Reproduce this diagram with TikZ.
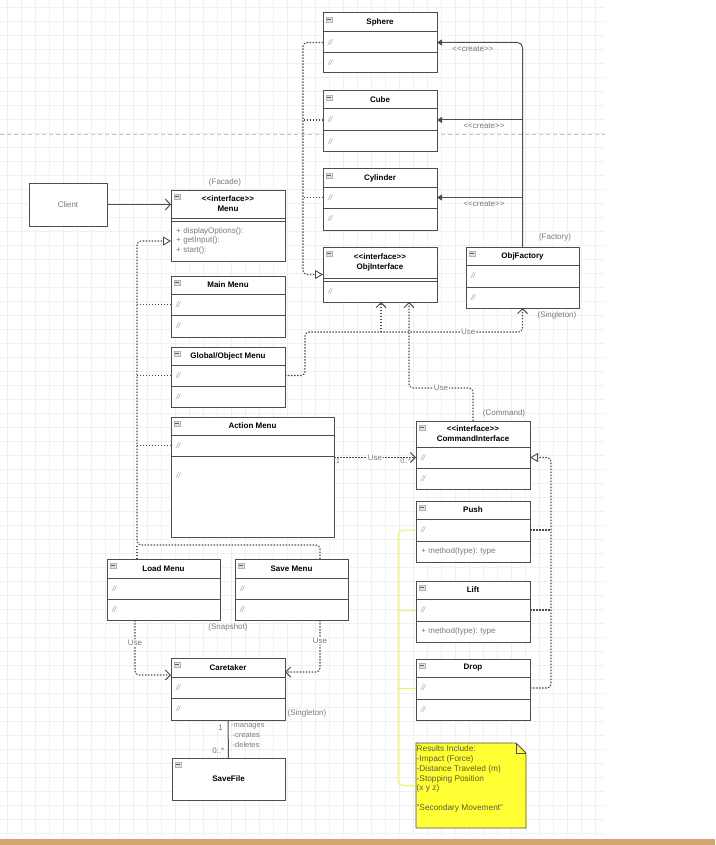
\documentclass[tikz,border=0pt]{standalone}
\usepackage{fontspec}
\setmainfont{Liberation Sans}
\usetikzlibrary{arrows.meta,calc}
\frenchspacing

\definecolor{umlline}{HTML}{4D4D4D}
\definecolor{labelgray}{HTML}{7A7A7A}
\definecolor{slashgray}{HTML}{A0A0A0}
\definecolor{gridgray}{HTML}{F0F0F0}
\definecolor{noteyellow}{HTML}{FFFF33}
\definecolor{notetextcol}{HTML}{5C5C30}
\definecolor{yellowline}{HTML}{F0F060}
\definecolor{baseband}{HTML}{D4A574}

\newcommand\attrmark{\textcolor{slashgray}{\itshape //}}
% stereotype brackets, kept apart so they are not merged into guillemets
\newcommand\stereo[1]{<{}<#1>{}>}

% class box: #1 name, #2 left, #3 top, #4 width, #5 header height,
% #6 first part height, #7 second part height, #8 title, #9 second part text
\newcommand\classbox[9]{%
  \pgfmathsetmacro\cbA{#3+#5}%
  \pgfmathsetmacro\cbB{#3+#5+#6}%
  \pgfmathsetmacro\cbT{#5+#6+#7}%
  \pgfmathsetmacro\cbW{#4-10}%
  \node[classouter, minimum width=#4, minimum height=\cbT, anchor=north west] (#1) at (#2,#3) {};
  \node[classhead, minimum width=#4, minimum height=#5, anchor=north west] (#1-h) at (#2,#3) {#8};
  \node[classpart, minimum width=#4, minimum height=#6, text width=\cbW pt, anchor=north west] (#1-a) at (#2,\cbA) {\attrmark};
  \node[classpart, minimum width=#4, minimum height=#7, text width=\cbW pt, anchor=north west] (#1-o) at (#2,\cbB) {#9};
  \node[iconbox, anchor=north west] (#1-i) at ($(#1.north west)+(3,4)$) {};
  \draw[iconbar] ($(#1-i.west)+(1.3,0)$) -- ($(#1-i.east)+(-1.3,0)$);
}

% interface box with a double rule: #1 name, #2 left, #3 top, #4 width,
% #5 header height, #6 body height, #7 title, #8 body text
\newcommand\ifacebox[8]{%
  \pgfmathsetmacro\cbA{#3+#5}%
  \pgfmathsetmacro\cbB{#3+#5+3}%
  \pgfmathsetmacro\cbT{#5+3+#6}%
  \pgfmathsetmacro\cbW{#4-10}%
  \node[classouter, minimum width=#4, minimum height=\cbT, anchor=north west] (#1) at (#2,#3) {};
  \node[classhead, minimum width=#4, minimum height=#5, anchor=north west] (#1-h) at (#2,#3) {#7};
  \node[classouter, minimum width=#4, minimum height=3, anchor=north west] (#1-g) at (#2,\cbA) {};
  \node[classpart, minimum width=#4, minimum height=#6, text width=\cbW pt, anchor=north west] (#1-a) at (#2,\cbB) {#8};
  \node[iconbox, anchor=north west] (#1-i) at ($(#1.north west)+(3,4)$) {};
  \draw[iconbar] ($(#1-i.west)+(1.3,0)$) -- ($(#1-i.east)+(-1.3,0)$);
}

\tikzset{
  x=1pt, y=-1pt,
  every node/.style={font=\fontsize{8}{9.6}\selectfont, text=labelgray},
  classouter/.style={draw=umlline, fill=white, line width=1pt, inner sep=0pt, outer sep=0pt},
  classhead/.style={classouter, font=\bfseries\fontsize{8}{10}\selectfont, text=black, align=center},
  classpart/.style={classouter, align=left, inner xsep=5pt, inner ysep=0pt, text=labelgray},
  iconbox/.style={draw=gray!60, fill=gray!22, line width=0.4pt, minimum width=6.5pt, minimum height=5.5pt, inner sep=0pt, outer sep=0pt},
  iconbar/.style={draw=gray!70!black, line width=0.8pt},
  tag/.style={text=labelgray, inner sep=1pt},
  usetag/.style={tag, fill=white},
  dots/.style={draw=umlline, line width=1.1pt, dash pattern=on 1.5pt off 1.5pt, rounded corners=4pt},
  realize/.style={dots, -{Triangle[open, length=8pt, width=9pt, line width=0.9pt, fill=white]}},
  usepath/.style={dots, -{Straight Barb[length=5pt, width=10pt, line width=1pt]}},
  create/.style={draw=umlline, line width=1pt, rounded corners=5pt, -{Triangle[length=5pt, width=6pt]}},
  assoc/.style={draw=umlline, line width=1pt, -{Straight Barb[length=5pt, width=11pt, line width=1pt]}},
  plainline/.style={draw=umlline, line width=1pt},
  noteline/.style={draw=yellowline, line width=1pt, rounded corners=5pt},
  gridline/.style={draw=gridgray, line width=0.5pt},
}

\begin{document}
\begin{tikzpicture}
\useasboundingbox (0,0) rectangle (715,845);
\fill[white] (0,0) rectangle (715,845);

% background grid, page break rule and bottom band
\foreach \gx in {7,21,...,605} \draw[gridline] (\gx,0) -- (\gx,836);
\foreach \gy in {7,21,...,836} \draw[gridline] (0,\gy) -- (605,\gy);
\draw[draw=gray!45, line width=0.6pt, dash pattern=on 4pt off 3pt] (0,134) -- (605,134);
\fill[baseband] (0,839) rectangle (715,845);

% ---- object side ----
\classbox{sphere}{323}{13}{114}{19}{21}{20}{Sphere}{\attrmark}
\classbox{cube}{323}{91}{114}{18}{22}{21}{Cube}{\attrmark}
\classbox{cyl}{323}{169}{114}{18}{21}{22}{Cylinder}{\attrmark}
\ifacebox{objint}{323}{247}{114}{31}{21}{\stereo{interface}\\ObjInterface}{\attrmark}
\classbox{objf}{466}{247}{113}{18}{22}{21}{ObjFactory}{\attrmark}
\node[tag] (factorytag) at (555,237) {(Factory)};
\node[tag] (objfsingle) at (557,315) {(Singleton)};

% ---- menus ----
\node[classouter, minimum width=78, minimum height=43, anchor=north west, text=labelgray] (client) at (29,183) {Client};
\ifacebox{menu}{171}{190}{114}{28}{40}{\stereo{interface}\\Menu}{\fontsize{8}{9}\selectfont + displayOptions():\\+ getInput():\\+ start():}
\node[tag] (facade) at (225,182) {(Facade)};
\classbox{mainm}{171}{276}{114}{18}{21}{22}{Main Menu}{\attrmark}
\classbox{globm}{171}{347}{114}{18}{21}{21}{Global/Object Menu}{\attrmark}
\classbox{action}{171}{417}{163}{18}{21}{81}{Action Menu}{}
\node[inner sep=0pt, anchor=west] (action-t) at ($(action-o.north west)+(5,20)$) {\attrmark};

% ---- commands ----
\classbox{cmd}{416}{421}{114}{26}{21}{21}{\stereo{interface}\\CommandInterface}{\attrmark}
\node[tag] (commandtag) at (504,413) {(Command)};
\classbox{push}{416}{501}{114}{18}{22}{21}{Push}{+ method(type): type}
\classbox{lift}{416}{581}{114}{18}{22}{21}{Lift}{+ method(type): type}
\classbox{drop}{416}{659}{114}{18}{22}{21}{Drop}{\attrmark}

% ---- snapshot ----
\classbox{load}{107}{559}{113}{19}{21}{21}{Load Menu}{\attrmark}
\classbox{save}{235}{559}{113}{19}{21}{21}{Save Menu}{\attrmark}
\node[tag] (snaptag) at (228,627) {(Snapshot)};
\classbox{care}{171}{658}{114}{19}{21}{22}{Caretaker}{\attrmark}
\node[tag] (caresingle) at (307,713) {(Singleton)};
\node[classhead, minimum width=113, minimum height=42, anchor=north west] (savefile) at (172,758) {SaveFile};
\node[iconbox, anchor=north west] (savefile-i) at ($(savefile.north west)+(3,4)$) {};
\draw[iconbar] ($(savefile-i.west)+(1.3,0)$) -- ($(savefile-i.east)+(-1.3,0)$);

% ---- note ----
\node[minimum width=110, minimum height=85, inner sep=0pt, outer sep=0pt, anchor=north west] (note) at (416,743) {};
\filldraw[fill=noteyellow, draw=umlline, line width=0.9pt]
  (note.north west) -- ($(note.north east)+(-10,0)$) -- ($(note.north east)+(0,10)$)
  -- (note.south east) -- (note.south west) -- cycle;
\draw[umlline, line width=0.9pt] ($(note.north east)+(-10,0)$) -- ($(note.north east)+(-10,10)$) -- ($(note.north east)+(0,10)$);
\node[anchor=north west, inner sep=0pt, align=left, text=notetextcol,
      font=\fontsize{8.3}{9.8}\selectfont] (note-t) at (416.5,745.5)
  {Results Include:\\-Impact (Force)\\-Distance Traveled (m)\\-Stopping Position\\(x y z)\\\mbox{}\\"Secondary Movement"};

% ---- connectors ----
% factory creates the shapes
\draw[create] (objf.north) |- (sphere-a.east) node[tag, pos=0.79, below=2pt] (cr1) {\stereo{create}};
\draw[create] (objf.north |- cube-a.east) -- (cube-a.east) node[tag, pos=0.45, below=2pt] (cr2) {\stereo{create}};
\draw[create] (objf.north |- cyl-a.east) -- (cyl-a.east) node[tag, pos=0.45, below=2pt] (cr3) {\stereo{create}};

% shapes realise ObjInterface
\coordinate (ispine) at (303,0);
\draw[realize] (sphere-a.west) -| (ispine |- objint.west) -- (objint.west);
\draw[dots] (cube-a.west) -- (cube-a.west -| ispine);
\draw[dots] (cyl-a.west) -- (cyl-a.west -| ispine);

% client uses the facade
\draw[assoc] (client.east) -- (client.east -| menu.west);

% menus realise Menu
\coordinate (mspine) at (137,545);
\draw[realize] ($(save.north west)+(85,0)$) |- (mspine) |- (menu-a.west);
\draw[dots] (load.north -| mspine) -- (mspine);
\draw[dots] (mainm-a.west) -- (mainm-a.west -| mspine);
\draw[dots] (globm-a.west) -- (globm-a.west -| mspine);
\draw[dots] (action-a.west) -- (action-a.west -| mspine);

% Global/Object Menu uses the object side
\coordinate (ujoin) at (305,332);
\coordinate (ubranch) at (381,332);
\draw[usepath] (globm-a.east) -| (ujoin) -- (ujoin -| objf.south) node[usetag, pos=0.75] (use1) {Use} -- (objf.south);
\draw[usepath] (ubranch) -- (ubranch |- objint.south);

% CommandInterface uses ObjInterface
\coordinate (cjoin) at (409,388);
\draw[usepath] (cmd.north) |- (cjoin) node[usetag, pos=0.75] (use2) {Use} -- (cjoin |- objint.south);

% Action Menu uses CommandInterface
\draw[usepath] (cmd-a.west -| action.east) -- (cmd-a.west) node[usetag, pos=0.5] (use3) {Use};
\node[tag, anchor=north west, font=\fontsize{7}{8}\selectfont] (mult1) at ($(cmd-a.west -| action.east)+(1,0)$) {1};
\node[tag, anchor=north east, font=\fontsize{7}{8}\selectfont] (mult2) at ($(cmd-a.west)+(-4,0)$) {0..*};

% commands realise CommandInterface
\coordinate (cspine) at (551,0);
\draw[realize] (drop-a.east) -| (cspine |- cmd-a.east) -- (cmd-a.east);
\draw[dots] (push-a.east) -- (push-a.east -| cspine);
\draw[dots] (lift-a.east) -- (lift-a.east -| cspine);

% note attached to the commands
\coordinate (yspine) at (398,0);
\draw[noteline] (note.west) -| (yspine |- push-a.west) -- (push-a.west);
\draw[noteline] (lift-a.west -| yspine) -- (lift-a.west);
\draw[noteline] (drop-a.west -| yspine) -- (drop-a.west);

% load / save menus use the caretaker
\draw[usepath] ($(load.south west)+(28,0)$) |- ($(care.north west)+(0,17)$) node[usetag, pos=0.21] (use4) {Use};
\draw[usepath] ($(save.south west)+(85,0)$) |- ($(care.north east)+(0,14)$) node[usetag, pos=0.2] (use5) {Use};

% caretaker manages save files
\draw[plainline] (care.south) -- (savefile.north);
\node[tag, anchor=east] (mult3) at ($(care.south)+(-4,8)$) {1};
\node[tag, anchor=east] (mult4) at ($(savefile.north)+(-3,-7)$) {0..*};
\node[tag, anchor=north west, align=left, inner sep=0pt, font=\fontsize{7.5}{10}\selectfont] (roles) at ($(care.south)+(3,3)$) {-manages\\\hspace{1.5pt}-creates\\\hspace{1.5pt}-deletes};

\end{tikzpicture}
\end{document}
